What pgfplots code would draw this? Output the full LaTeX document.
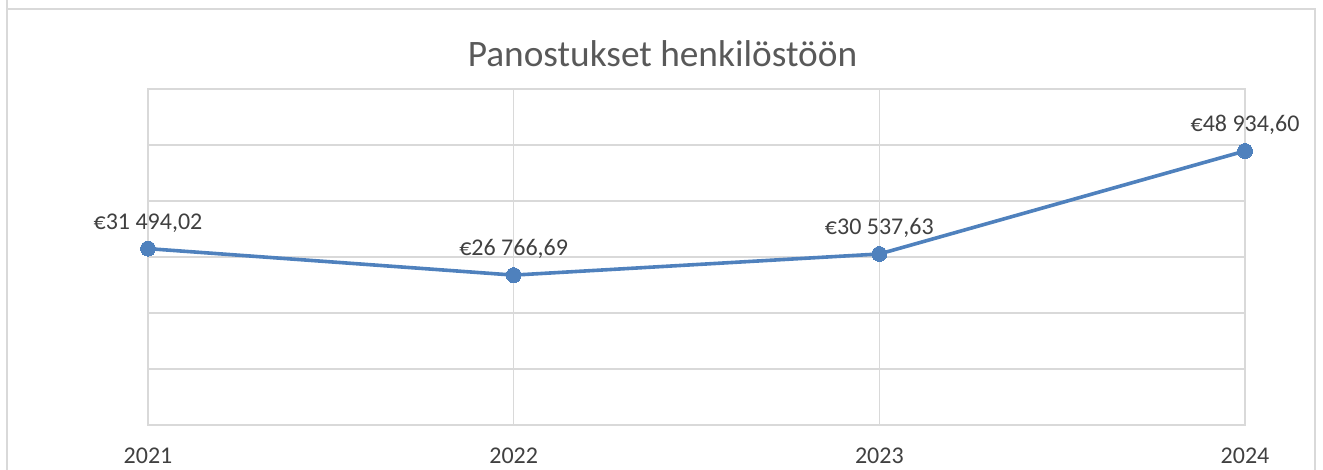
\documentclass[border=0pt]{standalone}
\usepackage{pgfplots}
\pgfplotsset{compat=1.18}
\usepackage{fontspec}
\setmainfont{Carlito}
\definecolor{linec}{HTML}{4F81BD}
\definecolor{gridc}{HTML}{D9D9D9}
\definecolor{txt}{HTML}{404040}
\definecolor{ttl}{HTML}{595959}
\begin{document}
\begin{tikzpicture}[x=1pt,y=1pt]
% px -> pt: 0.75 ; axis origin at px (148,425)
\useasboundingbox (-111,-33.75) rectangle (881.25,318.75);
\draw[gridc,line width=1.1pt] (-105.75,500) -- (-105.75,312) -- (875.25,312) -- (875.25,-100);
\draw[gridc,line width=1.1pt] (-105.75,312) -- (-105.75,-100);
\begin{axis}[
  at={(0,0)}, anchor=south west,
  scale only axis, width=822.75pt, height=252pt,
  xmin=0, xmax=3, ymin=0, ymax=60000,
  xtick={0,1,2,3}, xticklabels={2021,2022,2023,2024},
  ytick={0,10000,20000,30000,40000,50000,60000},
  yticklabels={}, scaled y ticks=false,
  major tick length=0pt,
  grid=major,
  grid style={gridc,line width=1.2pt},
  axis line style={gridc,line width=1.2pt},
  tick label style={font=\fontsize{18}{21}\selectfont, text=txt},
  xticklabel style={yshift=-14pt},
  clip=false,
  title={Panostukset henkilöstöön},
  title style={font=\fontsize{28}{33}\selectfont, text=ttl, yshift=7pt, xshift=-25.5pt},
  nodes near coords,
  point meta=explicit symbolic,
  every node near coord/.append style={font=\fontsize{18}{21}\selectfont, text=txt, anchor=south, yshift=9pt},
]
\addplot[linec, line width=2.7pt, mark=*, mark size=5.6pt, mark options={fill=linec, draw=linec, line width=0pt}]
coordinates {
(0,31494.02) [€31 494,02]
(1,26766.69) [€26 766,69]
(2,30537.63) [€30 537,63]
(3,48934.60) [€48 934,60]
};
\end{axis}
\end{tikzpicture}
\end{document}
